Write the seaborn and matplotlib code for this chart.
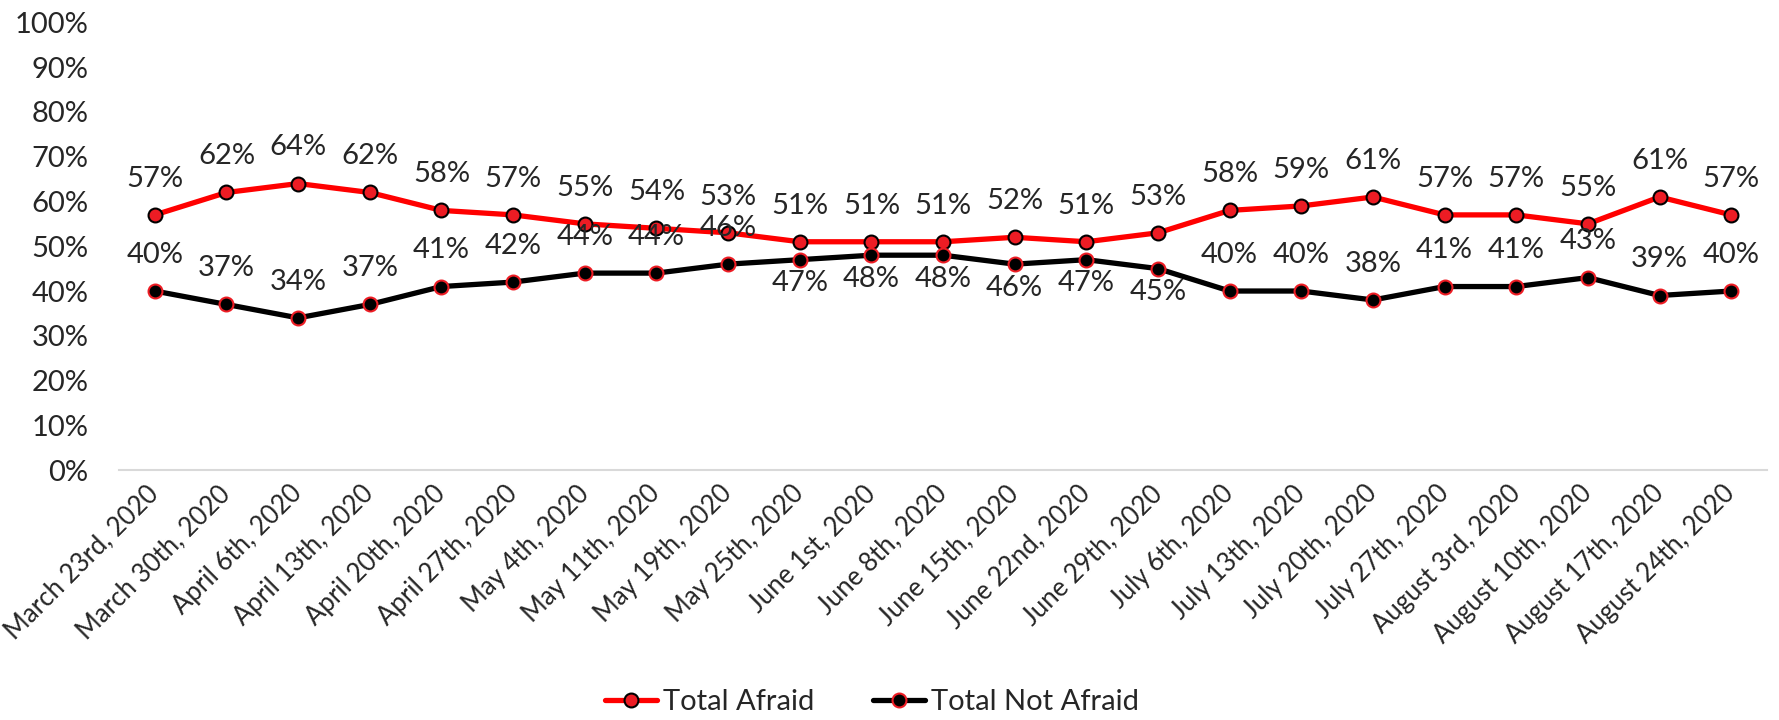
import numpy as np
import pandas as pd
import matplotlib
matplotlib.use("Agg")
import matplotlib.pyplot as plt
import seaborn as sns

# --- data ---
weeks = [
    "March 23rd, 2020", "March 30th, 2020", "April 6th, 2020", "April 13th, 2020",
    "April 20th, 2020", "April 27th, 2020", "May 4th, 2020", "May 11th, 2020",
    "May 19th, 2020", "May 25th, 2020", "June 1st, 2020", "June 8th, 2020",
    "June 15th, 2020", "June 22nd, 2020", "June 29th, 2020", "July 6th, 2020",
    "July 13th, 2020", "July 20th, 2020", "July 27th, 2020", "August 3rd, 2020",
    "August 10th, 2020", "August 17th, 2020", "August 24th, 2020",
]
afraid = [57, 62, 64, 62, 58, 57, 55, 54, 53, 51, 51, 51, 52, 51, 53, 58, 59, 61, 57, 57, 55, 61, 57]
not_afraid = [40, 37, 34, 37, 41, 42, 44, 44, 46, 47, 48, 48, 46, 47, 45, 40, 40, 38, 41, 41, 43, 39, 40]
# where the "not afraid" labels sit (Excel put some below the line)
not_afraid_below = [False] * 9 + [True] * 6 + [False] * 8

series_names = ["Total Afraid", "Total Not Afraid"]

sns.set_style("white")
plt.rcParams["font.family"] = ["Lato", "DejaVu Sans"]

fig = plt.figure(figsize=(17.79, 7.2), dpi=100)
ax = fig.add_axes([0.0669, 0.347, 0.9264, 0.622])

x = np.arange(len(weeks))
RED = "#FF0000"
RED_FILL = "#ED1C24"

sns.lineplot(x=x, y=np.array(afraid) / 100, ax=ax, color=RED, linewidth=3.8,
             marker="o", markersize=10, markerfacecolor=RED_FILL,
             markeredgecolor="black", markeredgewidth=1.5, label=series_names[0])
sns.lineplot(x=x, y=np.array(not_afraid) / 100, ax=ax, color="black", linewidth=3.8,
             marker="o", markersize=10, markerfacecolor="black",
             markeredgecolor=RED_FILL, markeredgewidth=1.5, label=series_names[1])

# data labels
for i, v in enumerate(afraid):
    ax.annotate(f"{v}%", (i, v / 100), xytext=(0, 26), textcoords="offset points",
                ha="center", va="center", fontsize=21)
for i, v in enumerate(not_afraid):
    dy = -17 if not_afraid_below[i] else 26
    ax.annotate(f"{v}%", (i, v / 100), xytext=(0, dy), textcoords="offset points",
                ha="center", va="center", fontsize=21)

ax.set_xlim(-0.5, len(weeks) - 0.5)
ax.set_ylim(0, 1.0)
ax.set_yticks(np.arange(0, 1.01, 0.1))
ax.set_yticklabels([f"{int(round(t * 100))}%" for t in np.arange(0, 1.01, 0.1)], fontsize=21)
ax.set_xticks(x)
ax.set_xticklabels(weeks, rotation=45, ha="right", va="center", rotation_mode="anchor",
                   fontsize=18.5)
ax.tick_params(axis="both", length=0)
ax.tick_params(axis="x", pad=14)
ax.tick_params(axis="y", pad=22)
ax.set_xlabel("")
ax.set_ylabel("")

for side in ["top", "right", "left"]:
    ax.spines[side].set_visible(False)
ax.spines["bottom"].set_color("#D9D9D9")
ax.spines["bottom"].set_linewidth(1.5)

ax.legend_.remove()
handles, labels = ax.get_legend_handles_labels()
fig.legend(handles, labels, loc="center", bbox_to_anchor=(0.49, 0.025), ncol=2,
           frameon=False, fontsize=21, handlelength=1.8, handletextpad=0.2,
           columnspacing=2.0)

fig.savefig("out.png", dpi=100)
